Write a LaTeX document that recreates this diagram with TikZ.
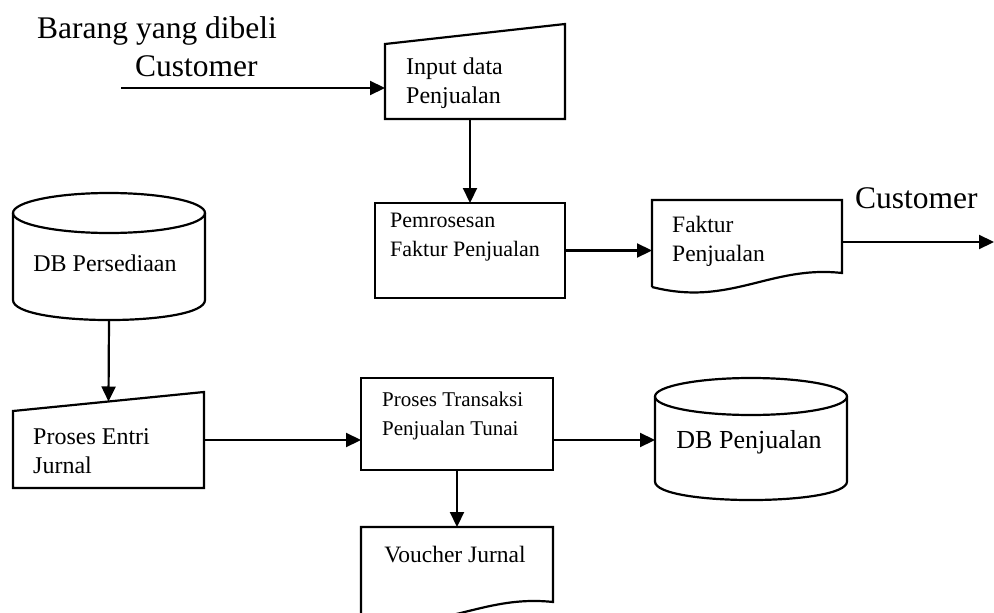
\documentclass[tikz,border=0pt]{standalone}
\usepackage{fontspec}
\setmainfont{Liberation Serif}
\usetikzlibrary{arrows.meta}
\begin{document}
\begin{tikzpicture}[x=1pt,y=-1pt,
  outline/.style={line width=2.2pt, line join=miter},
  flow/.style={line width=2.2pt, -{Triangle[length=15pt,width=14pt]}},
  box/.style={draw, line width=2.2pt, inner sep=0pt, outer sep=0pt},
  frame/.style={draw=none, inner sep=0pt, outer sep=0pt},
  lbl/.style={inner sep=0pt, anchor=west, align=left},
  bigtxt/.style={font=\fontsize{31.5}{36}\selectfont, inner sep=0pt},
  txt/.style={font=\fontsize{#1}{29}\selectfont},
]
\useasboundingbox (0,0) rectangle (994,613);

% ---------- input of sales data (manual input) ----------
\node[frame, minimum width=180pt, minimum height=95pt] (inp) at (475,71.5) {};
\draw[outline] (inp.south west) -- (inp.south east) -- (inp.north east)
  -- ([yshift=-20pt]inp.north west) -- cycle;
\node[lbl, txt=24] (inptxt) at (406,83) {Input data\\Penjualan};

\node[bigtxt, anchor=base west] (bought) at (37,38) {Barang yang dibeli};
\node[bigtxt, anchor=base west] (custin) at (135,76) {Customer};
\coordinate (buyer) at (121,88);
\draw[flow] (buyer) -- (buyer -| inp.west);

% ---------- invoice processing ----------
\node[box, minimum width=190pt, minimum height=95pt] (proc) at (470,250.5) {};
\node[lbl, txt=22] (proctxt) at (390,237) {Pemrosesan\\Faktur Penjualan};
\draw[flow] (inp.south -| proc.north) -- (proc.north);

% ---------- sales invoice (document) ----------
\node[frame, minimum width=190pt, minimum height=87pt] (fak) at (747,243.5) {};
\draw[outline] (652,287) -- (652,200) -- (842,200) -- (842,273)
  .. controls (770,265) and (730,307) .. (652,287);
\node[lbl, txt=23.5] (faktxt) at (672,241.5) {Faktur\\Penjualan};
\draw[flow] (proc.east) -- (proc.east -| fak.west);
\coordinate (custR) at (994,242);
\draw[flow] (custR -| fak.east) -- (custR);
\node[bigtxt, anchor=base west] (custout) at (855,208) {Customer};

% ---------- inventory database ----------
\node[frame, minimum width=192pt, minimum height=127pt] (dbp) at (109,256.5) {};
\draw[outline] (109,213) ellipse [x radius=96, y radius=20];
\draw[outline] (13,213) -- (13,300) .. controls (13,326.7) and (205,326.7) .. (205,300) -- (205,213);
\node[txt=24, inner sep=0pt] (dbptxt) at (105,263) {DB Persediaan};

% ---------- journal entry (manual input) ----------
\node[frame, minimum width=191pt, minimum height=96pt] (ent) at (108.5,440) {};
\draw[outline] (ent.south west) -- ([yshift=-19pt]ent.north west)
  -- (ent.north east) -- (ent.south east) -- cycle;
\node[lbl, txt=24] (enttxt) at (33,451) {Proses Entri\\Jurnal};
\draw[flow] (dbp.south) -- ([yshift=-9.5pt]ent.north);

% ---------- cash sales transaction ----------
\node[box, minimum width=192pt, minimum height=92pt] (trn) at (457,424) {};
\node[lbl, txt=21] (trntxt) at (382,416) {Proses Transaksi\\Penjualan Tunai};
\draw[flow] (ent.east) -- (ent.east -| trn.west);

% ---------- sales database ----------
\node[frame, minimum width=192pt, minimum height=122pt] (dbj) at (751,439) {};
\draw[outline] (751,396.5) ellipse [x radius=96, y radius=18.5];
\draw[outline] (655,396.5) -- (655,481.5) .. controls (655,506.2) and (847,506.2) .. (847,481.5) -- (847,396.5);
\node[txt=26, inner sep=0pt] (dbjtxt) at (749,442) {DB Penjualan};
\draw[flow] (ent.east -| trn.east) -- (ent.east -| dbj.west);

% ---------- journal voucher (document) ----------
\node[frame, minimum width=192pt, minimum height=89pt] (vch) at (457,571.5) {};
\draw[outline] (361,616) -- (361,527) -- (553,527) -- (553,602)
  .. controls (479,594) and (439,636) .. (361,616);
\node[txt=23.5, inner sep=0pt] (vchtxt) at (455,555) {Voucher Jurnal};
\draw[flow] (trn.south) -- (vch.north);
\end{tikzpicture}
\end{document}
